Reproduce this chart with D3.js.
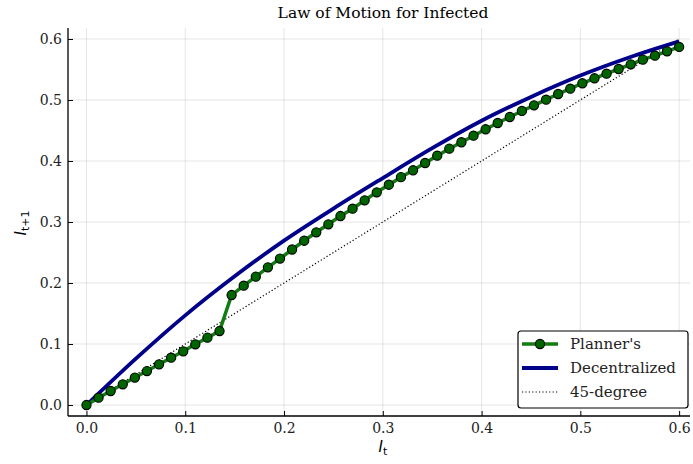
<!DOCTYPE html>
<html><head><meta charset="utf-8">
<script src="https://cdn.jsdelivr.net/npm/d3@7"></script>
<style>body{margin:0;background:#fff;} svg{display:block;}</style>
</head><body>
<svg id="c" width="693" height="464"></svg>
<script>
const title = "Law of Motion for Infected";
const nPlanner = 50;
const plannerY = [0.000,0.012,0.023,0.034,0.045,0.0557,0.0667,0.0776,0.088,0.0995,
 0.1104,0.1213,0.1803,0.1956,0.2104,0.2257,0.2400,0.2549,0.2693,0.2831,
 0.2962,0.3098,0.3218,0.3356,0.3487,0.3611,0.3735,0.3848,0.3967,0.4087,
 0.4202,0.4307,0.4415,0.4520,0.4623,0.4721,0.4820,0.4913,0.5005,0.5098,
 0.5185,0.5274,0.5356,0.5431,0.5508,0.5585,0.5661,0.5726,0.5798,0.5869];
const plannerX = d3.range(nPlanner).map(i => i * 0.6 / (nPlanner - 1));
const decX = [0,0.05,0.1,0.15,0.2,0.25,0.3,0.35,0.4,0.45,0.5,0.55,0.6];
const decY = [0,0.076,0.147,0.211,0.2695,0.322,0.372,0.421,0.466,0.505,0.540,0.570,0.596];
const diagX = [0,0.6];
const diagY = [0,0.6];
const xTicks = [0,0.1,0.2,0.3,0.4,0.5,0.6];
const yTicks = [0,0.1,0.2,0.3,0.4,0.5,0.6];
const legendLabels = ["Planner's","Decentralized","45-degree"];

const svg = d3.select("#c");
const L = 68, R = 690, T = 28, B = 416;
const x = d3.scaleLinear().domain([-0.0187, 0.611]).range([L, R]);
const y = d3.scaleLinear().domain([-0.018, 0.618]).range([B, T]);
const serif = "'DejaVu Serif', serif";

// grid
const g = svg.append("g");
g.selectAll("line.gx").data(xTicks).join("line")
 .attr("x1", d=>x(d)).attr("x2", d=>x(d)).attr("y1", B).attr("y2", T)
 .attr("stroke", "#000").attr("stroke-opacity", 0.1).attr("stroke-width", 1);
g.selectAll("line.gy").data(yTicks).join("line")
 .attr("y1", d=>y(d)).attr("y2", d=>y(d)).attr("x1", L).attr("x2", R)
 .attr("stroke", "#000").attr("stroke-opacity", 0.1).attr("stroke-width", 1);

// axes
const xAxis = d3.axisBottom(x).tickValues(xTicks).tickFormat(d3.format(".1f")).tickSize(-5).tickPadding(7);
const yAxis = d3.axisLeft(y).tickValues(yTicks).tickFormat(d3.format(".1f")).tickSize(-5).tickPadding(6);
const gx = svg.append("g").attr("transform", `translate(0,${B})`).call(xAxis);
const gy = svg.append("g").attr("transform", `translate(${L},0)`).call(yAxis);
[gx, gy].forEach(a => {
  a.select(".domain").attr("stroke", "#000").attr("stroke-width", 1.3);
  a.selectAll(".tick line").attr("stroke", "#000").attr("stroke-width", 1);
  a.selectAll("text").attr("font-family", serif).attr("font-size", 14).attr("fill", "#222");
});
gy.select(".domain").attr("d", `M0,${B}V${T}`);
gx.select(".domain").attr("d", `M${L},0H${R}`);

// lines
const line = d3.line().x(d=>x(d[0])).y(d=>y(d[1]));
const plot = svg.append("g");
plot.append("path").datum(d3.zip(diagX, diagY)).attr("d", line)
 .attr("fill","none").attr("stroke","#000").attr("stroke-width",1.2).attr("stroke-dasharray","1.2,2.2");
plot.append("path").datum(d3.zip(decX, decY)).attr("d", d3.line().x(d=>x(d[0])).y(d=>y(d[1])).curve(d3.curveMonotoneX))
 .attr("fill","none").attr("stroke","#00008b").attr("stroke-width",3.8);
plot.append("path").datum(d3.zip(plannerX, plannerY)).attr("d", line)
 .attr("fill","none").attr("stroke","#117d11").attr("stroke-width",3.5);
plot.selectAll("circle").data(d3.zip(plannerX, plannerY)).join("circle")
 .attr("cx", d=>x(d[0])).attr("cy", d=>y(d[1])).attr("r", 4.6)
 .attr("fill","#006400").attr("stroke","#000").attr("stroke-width",1.1);

// title
svg.append("text").attr("x", (L+R)/2 + 4).attr("y", 18).attr("text-anchor","middle")
 .attr("font-family", serif).attr("font-size", 15.5).attr("fill","#000").text(title);

// axis labels
const xl = svg.append("text").attr("x", 383).attr("y", 452).attr("text-anchor","middle")
 .attr("font-family","'DejaVu Sans', sans-serif").attr("font-size",15);
xl.append("tspan").attr("font-style","italic").text("I");
xl.append("tspan").attr("font-size",11).attr("dy",3).text("t");
const yl = svg.append("text").attr("transform","translate(26,223) rotate(-90)").attr("text-anchor","middle")
 .attr("font-family","'DejaVu Sans', sans-serif").attr("font-size",15);
yl.append("tspan").attr("font-style","italic").text("I");
yl.append("tspan").attr("font-size",11).attr("dy",3).text("t+1");

// legend
const lg = svg.append("g");
lg.append("rect").attr("x",518).attr("y",331).attr("width",170).attr("height",77).attr("rx",3)
 .attr("fill","#fff").attr("stroke","#000").attr("stroke-width",1.2);
const rows = [344,368,392];
lg.append("line").attr("x1",522).attr("x2",558).attr("y1",rows[0]).attr("y2",rows[0]).attr("stroke","#117d11").attr("stroke-width",3.5);
lg.append("circle").attr("cx",540).attr("cy",rows[0]).attr("r",4.6).attr("fill","#006400").attr("stroke","#000").attr("stroke-width",1.1);
lg.append("line").attr("x1",522).attr("x2",558).attr("y1",rows[1]).attr("y2",rows[1]).attr("stroke","#00008b").attr("stroke-width",3.8);
lg.append("line").attr("x1",522).attr("x2",558).attr("y1",rows[2]).attr("y2",rows[2]).attr("stroke","#000").attr("stroke-width",1.2).attr("stroke-dasharray","1.2,2.2");
lg.selectAll("text").data(legendLabels).join("text")
 .attr("x",570).attr("y",(d,i)=>rows[i]+5).attr("font-family",serif).attr("font-size",15).attr("fill","#222").text(d=>d);
</script>
</body></html>
